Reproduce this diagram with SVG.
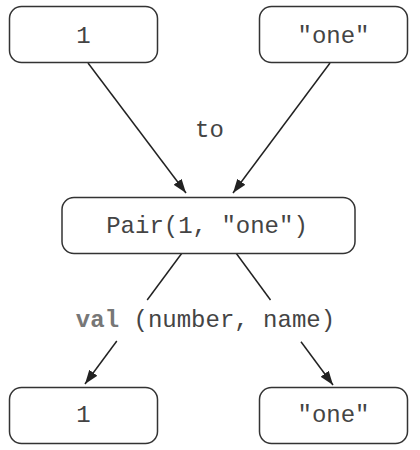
<svg xmlns="http://www.w3.org/2000/svg" width="420" height="450" viewBox="0 0 420 450">
<defs>
<marker id="ah" viewBox="0 0 14 10" refX="14" refY="5" markerWidth="14" markerHeight="10" markerUnits="userSpaceOnUse" orient="auto">
<path d="M0,0 L14,5 L0,10 Z" fill="#222"/>
</marker>
<style>
.box{fill:#fff;stroke:#333;stroke-width:1.5}
.t{font-family:"Liberation Mono","Courier New",monospace;font-size:24px;fill:#444;text-anchor:middle}
.kw{font-weight:bold;fill:#777}
.ln{stroke:#222;stroke-width:1.5;fill:none}
</style>
</defs>
<rect width="420" height="450" fill="#fff"/>
<g id="connectors">
<line class="ln" x1="88" y1="63" x2="186" y2="193" marker-end="url(#ah)"/>
<line class="ln" x1="330" y1="63" x2="233" y2="193" marker-end="url(#ah)"/>
<line class="ln" x1="182" y1="253" x2="147.2" y2="300"/>
<line class="ln" x1="116.8" y1="341" x2="85" y2="384" marker-end="url(#ah)"/>
<line class="ln" x1="236" y1="253" x2="270.5" y2="300"/>
<line class="ln" x1="301" y1="341.7" x2="333" y2="385" marker-end="url(#ah)"/>
<text class="t" x="209.5" y="137">to</text>
<text class="t" x="205.5" y="327"><tspan class="kw">val</tspan> (number, name)</text>
</g>
<g id="top1">
<rect class="box" x="9.5" y="6.5" width="148" height="56" rx="12"/>
<text class="t" x="83.5" y="43">1</text>
</g>
<g id="topone">
<rect class="box" x="259.5" y="6.5" width="148" height="56" rx="12"/>
<text class="t" x="333.5" y="43">"one"</text>
</g>
<g id="pair">
<rect class="box" x="62" y="197.5" width="293" height="56" rx="12"/>
<text class="t" x="207" y="233">Pair(1, "one")</text>
</g>
<g id="bot1">
<rect class="box" x="9.5" y="387.5" width="148" height="56" rx="12"/>
<text class="t" x="83.5" y="422">1</text>
</g>
<g id="botone">
<rect class="box" x="259.5" y="387.5" width="148" height="56" rx="12"/>
<text class="t" x="333.5" y="422">"one"</text>
</g>
</svg>
